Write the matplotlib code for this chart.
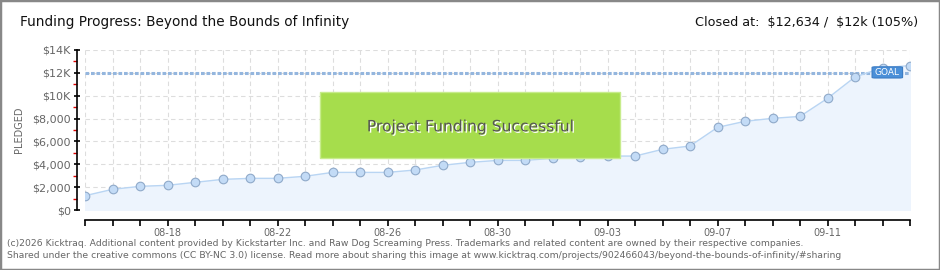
"""Kicktraq-style funding progress chart: Beyond the Bounds of Infinity."""

import matplotlib as mpl
import matplotlib.pyplot as plt
import matplotlib.patheffects as pe
from matplotlib.patches import Rectangle, FancyBboxPatch

mpl.use('Agg')
plt.rcParams['font.family'] = ['DejaVu Sans']

# ---------------------------------------------------------------------------
# Data
# ---------------------------------------------------------------------------

DAYS = ['08-15', '08-16', '08-17', '08-18', '08-19', '08-20', '08-21', '08-22',
        '08-23', '08-24', '08-25', '08-26', '08-27', '08-28', '08-29', '08-30',
        '08-31', '09-01', '09-02', '09-03', '09-04', '09-05', '09-06', '09-07',
        '09-08', '09-09', '09-10', '09-11', '09-12', '09-13', '09-14']

PLEDGED = [1250, 1810, 2070, 2160, 2420, 2680, 2770, 2770,
           2950, 3290, 3290, 3290, 3500, 3910, 4170, 4340,
           4340, 4520, 4640, 4720, 4720, 5310, 5600, 7230,
           7760, 8020, 8190, 9770, 11640, 12450, 12634]

GOAL = 12000
LABEL_DAYS = ['08-18', '08-22', '08-26', '08-30', '09-03', '09-07', '09-11']
Y_TICKS = [0, 2000, 4000, 6000, 8000, 10000, 12000, 14000]
Y_LABELS = ['$0', '$2,000', '$4,000', '$6,000', '$8,000', '$10K', '$12K', '$14K']

GREY = '#666666'
LINE = '#b9d5f3'
FILL = '#edf4fd'

# ---------------------------------------------------------------------------
# Figure
# ---------------------------------------------------------------------------

fig = plt.figure(figsize=(9.4, 2.7), dpi=100)
ax = fig.add_axes([85 / 940, 60 / 270, 825 / 940, 160 / 270])

x = list(range(len(DAYS)))
ax.fill_between(x, PLEDGED, 0, color=FILL, zorder=1)
ax.plot(x, PLEDGED, color=LINE, lw=1.0, zorder=3)
ax.plot(x, PLEDGED, ls='none', marker='o', ms=6.2, mfc='#c3dbf6',
        mec='#8fa9c9', mew=0.8, zorder=4)

# goal line
ax.axhline(GOAL, color='#94b6de', lw=2.2, ls=(0, (1.2, 0.6)), zorder=2)

ax.set_xlim(0, len(DAYS) - 1)
ax.set_ylim(0, 14000)

# grid
ax.set_xticks(x)
ax.set_xticklabels([d if d in LABEL_DAYS else '' for d in DAYS])
ax.set_yticks(Y_TICKS)
ax.set_yticklabels(Y_LABELS)
ax.set_yticks([1000, 3000, 5000, 7000, 9000, 11000, 13000], minor=True)
ax.grid(True, which='major', color='#dddddd', ls=(0, (4, 3)), lw=0.8, zorder=0)
ax.set_axisbelow(True)

for s in ['top', 'right']:
    ax.spines[s].set_visible(False)
ax.spines['left'].set_position(('outward', 5.8))
ax.spines['bottom'].set_position(('outward', 7.2))
ax.spines['left'].set_linewidth(1.2)
ax.spines['bottom'].set_linewidth(1.2)

ax.tick_params(axis='y', which='major', direction='inout', length=5, width=1.2,
               labelsize=8, labelcolor=GREY, pad=2)
ax.tick_params(axis='y', which='minor', direction='out', length=3, width=1.0,
               color='#dd0000')
ax.tick_params(axis='x', which='major', direction='out', length=4, width=1.2,
               labelsize=7, labelcolor=GREY, pad=2)
ax.set_ylabel('PLEDGED', fontsize=7, color=GREY, labelpad=6)

# success banner
ax.add_patch(Rectangle((0.285, 0.325), 0.363, 0.4125, transform=ax.transAxes,
                       facecolor='#a6dd4c', edgecolor='#c7ec8c', lw=1.0,
                       zorder=5))
ax.text(0.467, 0.52, 'Project Funding Successful', transform=ax.transAxes,
        ha='center', va='center', fontsize=11.2, color='#555555', zorder=6,
        path_effects=[pe.withSimplePatchShadow(offset=(1, -1),
                                               shadow_rgbFace='white', alpha=1)])

# goal tag
ax.add_patch(FancyBboxPatch((0.954, 0.825), 0.037, 0.07,
                            boxstyle='round,pad=0,rounding_size=0.004',
                            transform=ax.transAxes, facecolor='#4a8fd8',
                            edgecolor='#3c7cc4', lw=0.8, zorder=5))
ax.text(0.9725, 0.862, 'GOAL', transform=ax.transAxes, ha='center',
        va='center', fontsize=6.5, color='white', zorder=6)

# titles
fig.text(20 / 940, 1 - 22 / 270, 'Funding Progress: Beyond the Bounds of Infinity',
         fontsize=9.8, color='#111111', va='center', ha='left')
fig.text(918 / 940, 1 - 22 / 270, r'Closed at:  \$12,634 /  \$12k (105%)',
         fontsize=9.2, color='#111111', va='center', ha='right')

# footer
fig.text(7 / 940, 1 - 244 / 270,
         '(c)2026 Kicktraq. Additional content provided by Kickstarter Inc. and Raw Dog '
         'Screaming Press. Trademarks and related content are owned by their respective companies.',
         fontsize=6.7, color=GREY, va='center', ha='left')
fig.text(7 / 940, 1 - 256 / 270,
         'Shared under the creative commons (CC BY-NC 3.0) license. Read more about sharing '
         'this image at www.kicktraq.com/projects/902466043/beyond-the-bounds-of-infinity/#sharing',
         fontsize=6.7, color=GREY, va='center', ha='left')

# outer frame
fig.patches.append(Rectangle((0, 0), 1, 1, transform=fig.transFigure,
                             fill=False, edgecolor='#888888', lw=2.5))

fig.savefig('out.png', dpi=100)
